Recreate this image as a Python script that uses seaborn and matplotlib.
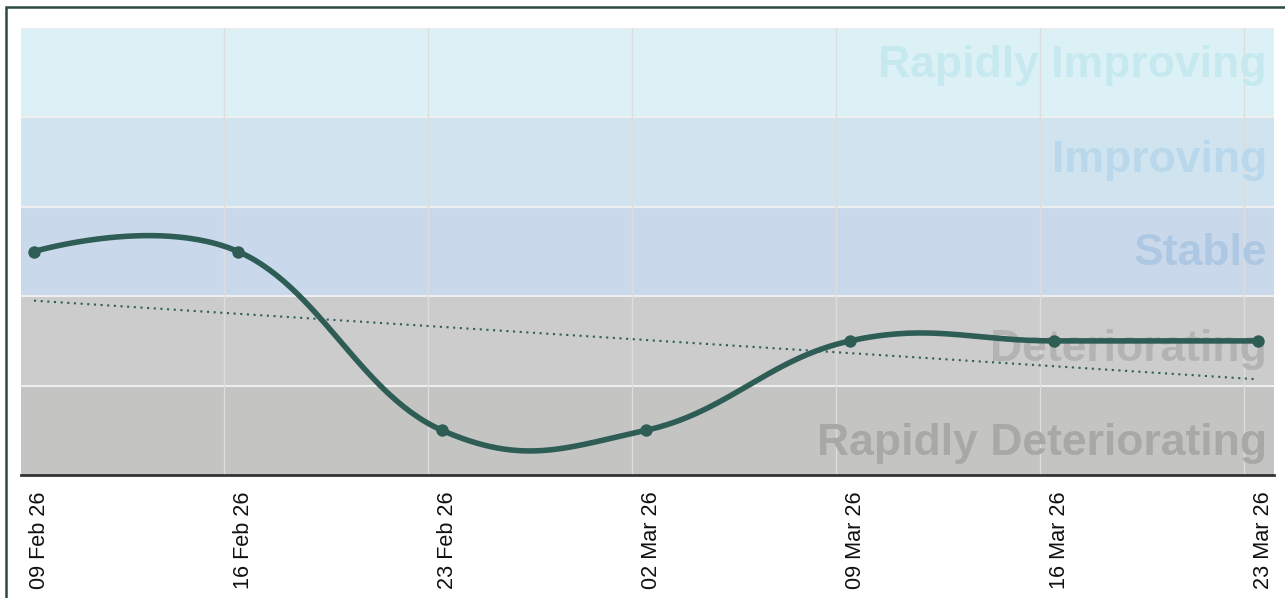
import numpy as np
import pandas as pd
import seaborn as sns
import matplotlib
matplotlib.use('Agg')
import matplotlib.pyplot as plt
import matplotlib.dates as mdates
from matplotlib.patches import Rectangle
from matplotlib.transforms import blended_transform_factory

# data
dates = ['2026-02-09', '2026-02-16', '2026-02-23', '2026-03-02',
         '2026-03-09', '2026-03-16', '2026-03-23']
scores = [2.5, 2.5, 0.5, 0.5, 1.5, 1.5, 1.5]
trend_ends = [1.95, 1.07]

band_names = ['Rapidly Deteriorating', 'Deteriorating', 'Stable',
              'Improving', 'Rapidly Improving']
band_colors = ['#c4c4c3', '#cccccc', '#c9d9eb', '#d0e4f0', '#dbf1f5']
label_colors = ['#a8a8a6', '#b3b3b3', '#aec8e4', '#b9d8eb', '#c6e9f0']
label_y = [0.22, 1.27, 2.35, 3.39, 4.45]

sns.set_theme(style='white')
plt.rcParams['font.family'] = ['Liberation Sans', 'DejaVu Sans']

x = mdates.date2num(pd.to_datetime(dates))
y = np.array(scores)
line_col = '#2e5d55'


def spline_path(xs, ys, smoothing=1.5, n=60):
    # highcharts style spline, control points from neighbours
    denom = smoothing + 1
    k = len(xs)
    lc = [(xs[i], ys[i]) for i in range(k)]
    rc = [(xs[i], ys[i]) for i in range(k)]
    for i in range(1, k - 1):
        lx = (smoothing * xs[i] + xs[i - 1]) / denom
        ly = (smoothing * ys[i] + ys[i - 1]) / denom
        rx = (smoothing * xs[i] + xs[i + 1]) / denom
        ry = (smoothing * ys[i] + ys[i + 1]) / denom
        corr = (ry - ly) * (rx - xs[i]) / (rx - lx) + ys[i] - ry
        lc[i] = (lx, ly + corr)
        rc[i] = (rx, ry + corr)
    px, py = [], []
    t = np.linspace(0, 1, n)
    for i in range(1, k):
        p0 = (xs[i - 1], ys[i - 1])
        p1 = rc[i - 1]
        p2 = lc[i]
        p3 = (xs[i], ys[i])
        a = (1 - t) ** 3
        b = 3 * (1 - t) ** 2 * t
        c = 3 * (1 - t) * t ** 2
        d = t ** 3
        px.extend(a * p0[0] + b * p1[0] + c * p2[0] + d * p3[0])
        py.extend(a * p0[1] + b * p1[1] + c * p2[1] + d * p3[1])
    return np.array(px), np.array(py)


fig = plt.figure(figsize=(12.85, 5.98), dpi=100)
ax = fig.add_axes([21 / 1285, 123 / 598, 1253 / 1285, 447 / 598])

# outer frame
fig.patches.append(Rectangle((6 / 1285, -0.1), 1.2, (591 / 598) + 0.1,
                             transform=fig.transFigure, fill=False,
                             edgecolor='#2b4a44', linewidth=1.8, zorder=0))

for i, col in enumerate(band_colors):
    ax.axhspan(i, i + 1, color=col, zorder=0, linewidth=0)
for v in range(1, 6):
    ax.axhline(v, color='#eeeeee', linewidth=1.5, zorder=1)

# vertical grid (offset half a day from the points)
for xv in x[1:]:
    ax.axvline(xv - 0.47, color='#dddddd', linewidth=1, zorder=1)

tr = blended_transform_factory(ax.transAxes, ax.transData)
for name, col, ly in zip(band_names, label_colors, label_y):
    ax.text(0.9944, ly, name, transform=tr, ha='right', va='baseline',
            fontsize=32, fontweight='bold', color=col, zorder=2)

trend = pd.DataFrame({'x': [x[0], x[-1]], 'y': trend_ends})
sns.lineplot(data=trend, x='x', y='y', ax=ax, color=line_col,
             linestyle=(0, (1, 2.2)), linewidth=1.5, zorder=3)

sx, sy = spline_path(x, y)
ax.plot(sx, sy, color=line_col, linewidth=4, zorder=4,
        solid_capstyle='round')
pts = pd.DataFrame({'x': x, 'y': y})
sns.scatterplot(data=pts, x='x', y='y', ax=ax, color=line_col, s=80,
                edgecolor=line_col, linewidth=0, zorder=5)

ax.set_xlim(x[0] - 0.446, x[-1] + 0.55)
ax.set_ylim(0, 5)
ax.set_yticks([])
# labels sit a few pixels right of the points
ax.set_xticks(x + 0.2)
ax.set_xticklabels(pd.to_datetime(dates).strftime('%d %b %y'),
                   rotation=90, fontsize=15.6, color='#111111', va='top')
ax.tick_params(axis='x', length=0, pad=12)
ax.set_xlabel('')
ax.set_ylabel('')
for s in ['top', 'right', 'left']:
    ax.spines[s].set_visible(False)
ax.spines['bottom'].set_color('#333333')
ax.spines['bottom'].set_linewidth(2)

fig.savefig('out.png', dpi=100)
